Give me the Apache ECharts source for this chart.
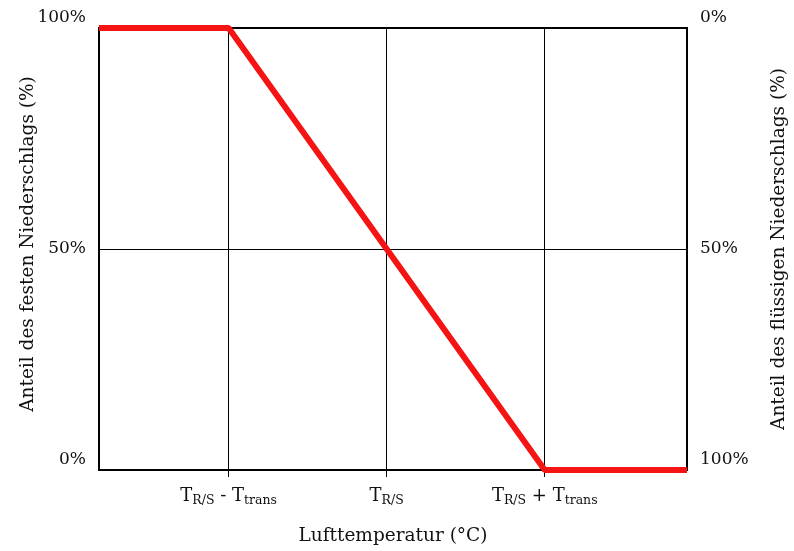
<!DOCTYPE html>
<html>
<head>
<meta charset="utf-8">
<script src="https://cdn.jsdelivr.net/npm/echarts@6/dist/echarts.min.js"></script>
<style>
  html, body { margin: 0; padding: 0; background: #fff; }
  #main { width: 794px; height: 551px; }
</style>
</head>
<body>
<div id="main"></div>
<script>
// Lufttemperatur in Einheiten von T_trans, relativ zu T_R/S
const xWerte = [-1.82, -1, 0, 1, 1.9]
// Anteil fester Niederschlag (%)
const festAnteil = [100, 100, 50, 0, 0]
const xTicks = [-1, 0, 1]
const xTickLabels = ['T{sub|R/S} - T{sub|trans}', 'T{sub|R/S}', 'T{sub|R/S} + T{sub|trans}']
const yTicks = [0, 50, 100]

const font = 'DejaVu Serif'
const fs = 17
const nameFs = 18.5
const myChart = echarts.init(document.getElementById('main'))

const yLabel = function (v) {
  // Randbeschriftungen etwas nach oben
  if (v === 0 || v === 100) return '{edge|' + v + '%}'
  return v + '%'
}

const option = {
  animation: false,
  textStyle: { fontFamily: font },
  grid: {
    left: 99, right: 107, top: 28, bottom: 81,
    outerBoundsMode: 'none',
    show: true, borderColor: '#000', borderWidth: 2
  },
  // linke Achsenbeschriftung als eigener Text (Abstand laesst sich sonst nicht setzen)
  graphic: [
    {
      type: 'text',
      x: 28, y: 244,
      rotation: Math.PI / 2,
      style: {
        text: 'Anteil des festen Niederschlags (%)',
        font: nameFs + 'px "DejaVu Serif"',
        fill: '#111',
        align: 'center',
        verticalAlign: 'middle'
      }
    }
  ],
  xAxis: {
    type: 'value',
    min: -1.82,
    max: 1.9,
    name: 'Lufttemperatur (°C)',
    nameLocation: 'middle',
    nameGap: 57,
    nameTextStyle: { fontFamily: font, fontSize: nameFs, color: '#111' },
    axisLine: { show: true, onZero: false, lineStyle: { color: '#000', width: 2 } },
    axisTick: { show: true, length: 7, customValues: xTicks, lineStyle: { color: '#000', width: 1 } },
    axisLabel: {
      customValues: xTicks,
      margin: 16,
      color: '#111',
      fontFamily: font,
      fontSize: 18,
      formatter: function (v) { return xTickLabels[xTicks.indexOf(v)] },
      rich: {
        sub: { fontFamily: font, fontSize: 12.5, color: '#111', padding: [8, 0, 0, 0] }
      }
    },
    splitLine: { show: false }
  },
  yAxis: [
    {
      type: 'value', min: 0, max: 100,
      axisLine: { show: true, onZero: false, lineStyle: { color: '#000', width: 2 } },
      axisTick: { show: false },
      axisLabel: {
        customValues: yTicks, margin: 13, color: '#111', fontFamily: font, fontSize: fs,
        formatter: yLabel,
        rich: { edge: { fontFamily: font, fontSize: fs, color: '#111', padding: [0, 0, 20, 0] } }
      },
      splitLine: { show: false }
    },
    {
      type: 'value', min: 0, max: 100, inverse: true, position: 'right',
      name: 'Anteil des flüssigen Niederschlags (%)',
      nameLocation: 'middle', nameRotate: 90, nameGap: 83,
      nameTextStyle: { fontFamily: font, fontSize: nameFs, color: '#111' },
      axisLine: { show: true, onZero: false, lineStyle: { color: '#000', width: 2 } },
      axisTick: { show: false },
      axisLabel: {
        customValues: yTicks, margin: 13, color: '#111', fontFamily: font, fontSize: fs,
        formatter: yLabel,
        rich: { edge: { fontFamily: font, fontSize: fs, color: '#111', padding: [0, 0, 20, 0] } }
      },
      splitLine: { show: false }
    }
  ],
  series: [
    {
      type: 'line',
      data: xWerte.map((x, i) => [x, festAnteil[i]]),
      symbol: 'none',
      lineStyle: { color: '#f51414', width: 6 },
      z: 5,
      markLine: {
        silent: true,
        symbol: 'none',
        label: { show: false },
        lineStyle: { color: '#000', width: 1, type: 'solid' },
        data: xTicks.map(v => ({ xAxis: v })).concat([{ yAxis: 50 }]),
        z: 1
      }
    }
  ]
}
myChart.setOption(option)
</script>
</body>
</html>
